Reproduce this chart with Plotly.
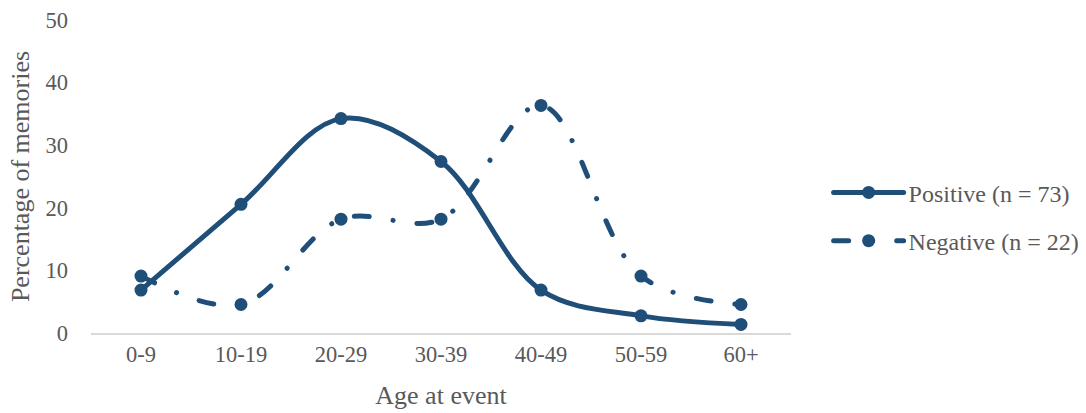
import plotly.graph_objects as go

categories = ["0-9", "10-19", "20-29", "30-39", "40-49", "50-59", "60+"]
positive = [6.85, 20.55, 34.25, 27.40, 6.85, 2.74, 1.37]
negative = [9.09, 4.55, 18.18, 18.18, 36.36, 9.09, 4.55]
y_ticks = [0, 10, 20, 30, 40, 50]

color = "#1F4E79"
gray = "#595959"
font_family = "Liberation Serif, Times New Roman, serif"

fig = go.Figure()
fig.add_trace(go.Scatter(
    x=categories, y=positive, name="Positive (n = 73)", mode="lines+markers",
    legendgroup="pos",
    line=dict(color=color, width=5, shape="spline", smoothing=1.0),
    marker=dict(size=13, color=color),
))
fig.add_trace(go.Scatter(
    x=categories, y=negative, name="Negative (n = 22)", mode="lines+markers",
    legendgroup="neg",
    line=dict(color=color, width=5, shape="spline", smoothing=1.0,
              dash="15px,24px,0.1px,24px"),
    marker=dict(size=13, color=color),
))

fig.update_layout(
    width=1086, height=413,
    margin=dict(l=91, r=295, t=20, b=80),
    paper_bgcolor="white", plot_bgcolor="white",
    font=dict(family=font_family, size=22, color=gray),
    showlegend=True,
    legend=dict(
        xref="container", yref="container",
        x=0.763, y=0.475, xanchor="left", yanchor="middle",
        font=dict(family=font_family, size=24, color=gray),
        itemwidth=70, tracegroupgap=14,
        bgcolor="rgba(0,0,0,0)",
    ),
    xaxis=dict(
        type="category", range=[-0.5, 6.5], automargin=False,
        showgrid=False, showline=True, linecolor="#D9D9D9", linewidth=1.5,
        ticks="", ticklabelstandoff=0,
        title=dict(text="Age at event", standoff=20,
                   font=dict(family=font_family, size=26, color=gray)),
        tickfont=dict(family=font_family, size=22.5, color=gray),
        zeroline=False,
    ),
    yaxis=dict(
        range=[0, 50], tickvals=y_ticks, automargin=False,
        showgrid=False, showline=False, zeroline=False,
        ticks="", ticklabelstandoff=22,
        title=dict(text="Percentage of memories", standoff=8,
                   font=dict(family=font_family, size=26, color=gray)),
        tickfont=dict(family=font_family, size=22.5, color=gray),
    ),
)

post = """
var s = document.createElement('style');
s.innerHTML = '.scatterlayer .js-line, .legend .js-line { stroke-linecap: round !important; stroke-linejoin: round !important; }';
document.head.appendChild(s);
"""
fig.write_html("out.html", post_script=post)
